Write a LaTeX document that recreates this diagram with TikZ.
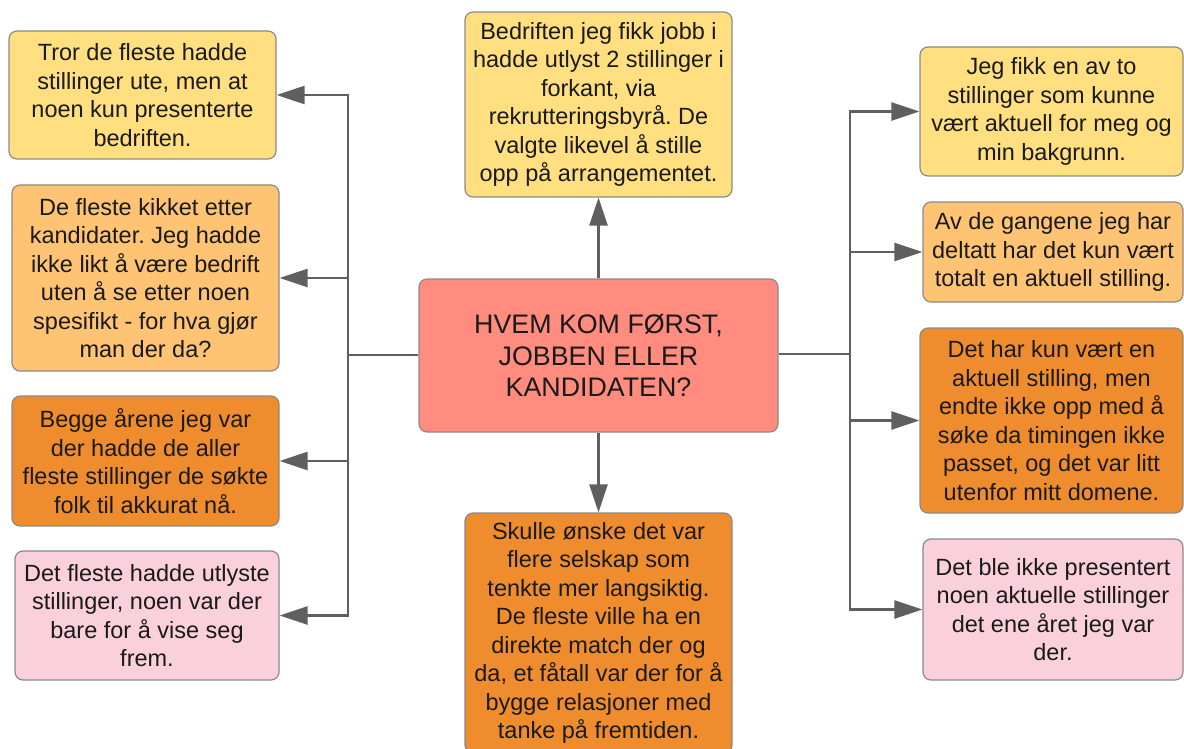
\documentclass[tikz,border=0pt]{standalone}
\usepackage{fontspec}
\setmainfont{Liberation Sans}
\usetikzlibrary{arrows.meta}
\frenchspacing
\definecolor{cyel}{HTML}{FFDF80}
\definecolor{clor}{HTML}{FFC374}
\definecolor{cor}{HTML}{EF8D2E}
\definecolor{cpk}{HTML}{FAD0DC}
\definecolor{csal}{HTML}{FF8C7F}
\definecolor{cline}{HTML}{5F5F5F}
\definecolor{cbord}{HTML}{8A8A8A}
\definecolor{ctext}{HTML}{1A1A1A}
\tikzset{
  box/.style={draw=cbord, line width=1.2pt, rounded corners=8pt, align=center,
    inner sep=0pt, text=ctext, font=\fontsize{23.5}{28.5}\selectfont},
  conn/.style={draw=cline, line width=2.6pt, -{Triangle[length=28pt,width=18pt]}},
  plain/.style={draw=cline, line width=2.6pt}
}
\begin{document}
\begin{tikzpicture}[x=1pt,y=-1pt]
\useasboundingbox (0,0) rectangle (1184,749);
% center
\node[box, fill=csal, minimum width=359pt, minimum height=153pt, font=\fontsize{26.8}{31.5}\selectfont] (C) at (598.5,355.5)
  {HVEM KOM FØRST,\\JOBBEN ELLER\\KANDIDATEN?};
% top and bottom
\node[box, fill=cyel, minimum width=267pt, minimum height=185pt] (T) at (598.5,104.5)
  {Bedriften jeg fikk jobb i\\hadde utlyst 2 stillinger i\\forkant, via\\rekrutteringsbyrå. De\\valgte likevel å stille\\opp på arrangementet.};
\node[box, fill=cor, minimum width=267pt, minimum height=240pt] (B) at (598.5,633)
  {Skulle ønske det var\\flere selskap som\\tenkte mer langsiktig.\\De fleste ville ha en\\direkte match der og\\da, et fåtall var der for å\\bygge relasjoner med\\tanke på fremtiden.};
% left column
\node[box, fill=cyel, minimum width=267pt, minimum height=128pt] (L1) at (142.5,95)
  {Tror de fleste hadde\\stillinger ute, men at\\noen kun presenterte\\bedriften.};
\node[box, fill=clor, minimum width=267pt, minimum height=186pt] (L2) at (145.5,278)
  {De fleste kikket etter\\kandidater. Jeg hadde\\ikke likt å være bedrift\\uten å se etter noen\\spesifikt - for hva gjør\\man der da?};
\node[box, fill=cor, minimum width=267pt, minimum height=130pt] (L3) at (145.5,461)
  {Begge årene jeg var\\der hadde de aller\\fleste stillinger de søkte\\folk til akkurat nå.};
\node[box, fill=cpk, minimum width=264pt, minimum height=129pt] (L4) at (147,615.5)
  {Det fleste hadde utlyste\\stillinger, noen var der\\bare for å vise seg\\frem.};
% right column
\node[box, fill=cyel, minimum width=263pt, minimum height=129pt] (R1) at (1051.5,111.5)
  {Jeg fikk en av to\\stillinger som kunne\\vært aktuell for meg og\\min bakgrunn.};
\node[box, fill=clor, minimum width=260pt, minimum height=100pt] (R2) at (1053,252)
  {Av de gangene jeg har\\deltatt har det kun vært\\totalt en aktuell stilling.};
\node[box, fill=cor, minimum width=263pt, minimum height=185pt] (R3) at (1051.5,420.5)
  {Det har kun vært en\\aktuell stilling, men\\endte ikke opp med å\\søke da timingen ikke\\passet, og det var litt\\utenfor mitt domene.};
\node[box, fill=cpk, minimum width=260pt, minimum height=141pt] (R4) at (1053,609.5)
  {Det ble ikke presentert\\noen aktuelle stillinger\\det ene året jeg var\\der.};
% trunks
\coordinate (TL) at (348,355);
\coordinate (TR) at (850,354);
\draw[plain] (C.west |- TL) -- (TL);
\draw[plain] (C.east |- TR) -- (TR);
\foreach \n in {L1,L2,L3,L4} \draw[conn] (TL) |- (\n.east);
\foreach \n in {R1,R2,R3,R4} \draw[conn] (TR) |- (\n.west);
\draw[conn] (C.north) -- (T.south);
\draw[conn] (C.south) -- (B.north);
\end{tikzpicture}
\end{document}
